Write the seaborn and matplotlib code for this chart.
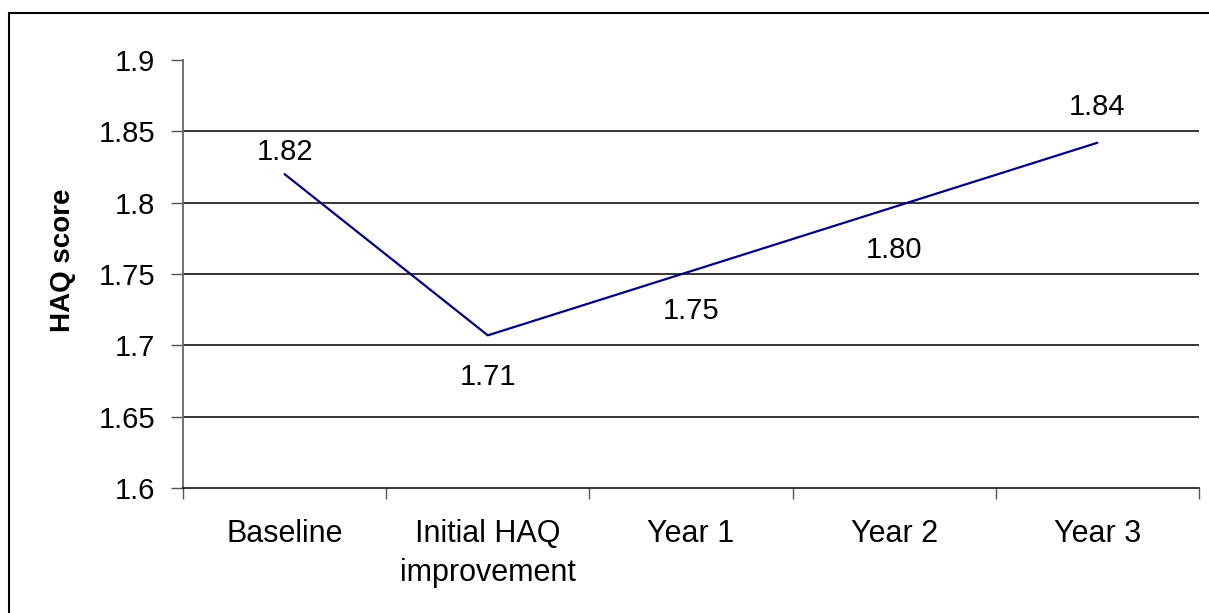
import matplotlib
matplotlib.use("Agg")
import matplotlib.pyplot as plt
import matplotlib.patches as mpatches
import seaborn as sns
import pandas as pd
import numpy as np

categories = ["Baseline", "Initial HAQ\nimprovement", "Year 1", "Year 2", "Year 3"]
haq_values = [1.82, 1.707, 1.752, 1.797, 1.842]
value_labels = ["1.82", "1.71", "1.75", "1.80", "1.84"]
y_ticks = [1.6, 1.65, 1.7, 1.75, 1.8, 1.85, 1.9]
y_tick_labels = ["1.6", "1.65", "1.7", "1.75", "1.8", "1.85", "1.9"]

# label centre offsets (points) relative to each data point
label_offsets = [16, -30, -29, -31, 26]

sns.set_style("white")
plt.rcParams["font.family"] = ["Liberation Sans", "DejaVu Sans"]
plt.rcParams["text.color"] = "black"
FS_NUM = 21
FS_TXT = 22

fig = plt.figure(figsize=(12.09, 6.13), dpi=100)
ax = fig.add_axes([183/1209, 1-488/613, (1199-183)/1209, (488-60)/613])

df = pd.DataFrame({"pos": np.arange(len(categories)), "haq": haq_values})
sns.lineplot(data=df, x="pos", y="haq", ax=ax, color="#000080", linewidth=1.6)

ax.set_xlim(-0.5, len(categories) - 0.5)
ax.set_ylim(1.6, 1.9)
ax.set_yticks(y_ticks)
ax.set_yticklabels(y_tick_labels, fontsize=FS_NUM, color="black")
ax.set_xticks(np.arange(len(categories)))
ax.set_xticklabels(categories, fontsize=FS_TXT, linespacing=1.42, color="black")
ax.set_xticks(np.arange(len(categories) + 1) - 0.5, minor=True)
ax.tick_params(axis="x", which="major", length=0, pad=22)
ax.tick_params(axis="x", which="minor", length=8, width=1, direction="out", color="#555555")
ax.tick_params(axis="y", length=9, width=1, direction="out", color="#555555", pad=11)
ax.xaxis.set_ticks_position("bottom")
ax.yaxis.set_ticks_position("left")

for yv in y_ticks[1:-1]:
    ax.axhline(yv, color="black", linewidth=1.1, zorder=0)

for s in ["top", "right"]:
    ax.spines[s].set_visible(False)
ax.spines["left"].set_color("#666666")
ax.spines["left"].set_linewidth(1.3)
ax.spines["bottom"].set_color("black")
ax.spines["bottom"].set_linewidth(1.1)

ax.set_xlabel("")
ax.set_ylabel("HAQ score", fontsize=20, fontweight="bold", color="black")
ax.yaxis.set_label_coords((76 - 183) / 1016, (488 - 260) / 428)

for i, (v, lab, off) in enumerate(zip(haq_values, value_labels, label_offsets)):
    ax.annotate(lab, (i, v), xytext=(0, off), textcoords="offset points",
                ha="center", va="center", fontsize=FS_NUM, color="black")

border = mpatches.Rectangle((9/1209, -0.05), 1.1, 1 - 13/613 + 0.05,
                            transform=fig.transFigure, fill=False,
                            edgecolor="black", linewidth=1.5)
fig.patches.append(border)

fig.savefig("out.png", dpi=100)
